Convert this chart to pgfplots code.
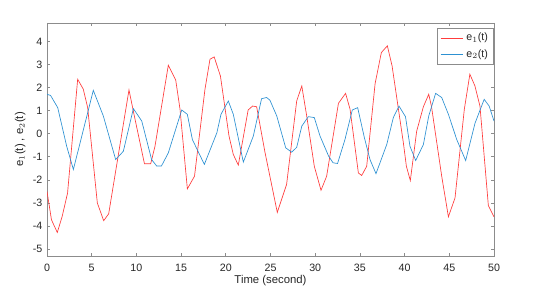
\documentclass[border=0pt]{standalone}
\usepackage{fontspec}
\setmainfont{Liberation Sans}
\usepackage{pgfplots}
\pgfplotsset{compat=1.18}
\definecolor{mred}{RGB}{255,60,60}
\definecolor{mblue}{RGB}{45,145,210}
\definecolor{axgray}{RGB}{140,140,140}
\definecolor{txt}{RGB}{38,38,38}
\begin{document}
\begin{tikzpicture}
\useasboundingbox (0pt,0pt) rectangle (400.5pt,219.75pt);
\begin{axis}[
  at={(35.25pt,27.75pt)}, anchor=south west,
  scale only axis, width=335.25pt, height=174.75pt,
  xmin=0, xmax=50, ymin=-5.3, ymax=4.8,
  xtick={0,5,...,50}, ytick={-5,-4,...,4},
  tick align=inside, major tick length=2.5pt,
  axis line style={axgray, line width=0.5pt},
  every tick/.style={axgray, line width=0.5pt},
  tick label style={font=\fontsize{8}{9.5}\selectfont, text=txt},
  xticklabel style={yshift=-2.5pt},
  /pgf/number format/assume math mode=true,
  xlabel={Time (second)},
  ylabel={e$_1$(t) , e$_2$(t)},
  label style={font=\fontsize{8.5}{10}\selectfont, text=txt},
  xlabel style={at={(axis description cs:0.5,-0.106)}, anchor=center},
  ylabel style={at={(axis description cs:-0.06,0.5)}, anchor=center},
  legend style={at={(0.999,0.98)}, anchor=north east, draw=axgray,
    font=\fontsize{8}{9.5}\selectfont, text=txt, inner sep=2pt, row sep=1pt},
  legend cell align=left,
]
\addplot[mred, line width=0.5pt] coordinates {
(0,-2.5) (0.5,-3.73) (1.15,-4.28) (1.7,-3.58) (2.3,-2.57) (3.43,2.36) (4.06,1.93) (4.55,1.13)
(5.63,-3.0) (6.34,-3.77) (6.9,-3.47) (9.17,1.9) (9.77,0.77) (10.9,-1.3) (11.6,-1.3) (12.08,-0.54)
(13.57,2.97) (14.4,2.32) (14.88,1.06) (15.7,-2.39) (16.5,-1.84) (17.67,1.93) (18.23,3.23) (18.7,3.33)
(19.4,2.5) (20.36,-0.1) (20.84,-0.9) (21.4,-1.36) (22.5,1.03) (23.0,1.2) (23.45,1.17) (24.38,-0.8)
(25.76,-3.41) (26.8,-2.2) (27.93,1.42) (28.5,2.07) (29.05,0.77) (29.9,-1.41) (30.65,-2.45) (31.28,-1.84)
(32.6,1.32) (33.4,1.75) (33.9,1.06) (34.83,-1.7) (35.2,-1.81) (35.76,-1.41) (36.7,2.17) (37.4,3.52)
(38.07,3.81) (38.6,2.94) (39.86,-0.39) (40.2,-1.41) (40.64,-2.03) (41.35,0.11) (42.1,1.17) (42.7,1.71)
(43.0,1.2) (44.15,-1.84) (44.9,-3.6) (45.64,-2.78) (46.68,1.06) (47.3,2.58) (47.87,2.07) (48.43,1.2)
(49.37,-3.12) (50.0,-3.6)
};
\addlegendentry{e$_1$(t)}
\addplot[mblue, line width=0.5pt] coordinates {
(0,1.71) (0.4,1.66) (1.2,1.13) (2.2,-0.54) (2.95,-1.55) (5.18,1.88) (6.3,0.77) (7.68,-1.12)
(8.54,-0.76) (9.66,1.09) (10.6,0.55) (11.7,-1.12) (12.27,-1.4) (12.8,-1.4) (13.57,-0.83) (15.07,1.03)
(15.7,0.84) (16.26,-0.25) (17.6,-1.33) (19.0,0.04) (19.46,0.84) (20.28,1.42) (20.84,0.84) (21.96,-1.23)
(23.08,-0.1) (24.0,1.52) (24.57,1.57) (24.94,1.45) (25.7,0.77) (26.7,-0.61) (27.37,-0.8) (27.93,-0.59)
(28.5,0.33) (29.23,0.74) (29.9,0.7) (30.54,-0.1) (31.5,-0.97) (32.0,-1.26) (32.5,-1.29) (33.33,-0.25)
(34.15,1.03) (34.75,1.13) (35.5,-0.17) (36.13,-1.12) (36.8,-1.73) (38.0,-0.47) (38.74,0.7) (39.37,1.2)
(40.1,0.74) (40.6,-0.54) (41.24,-1.16) (42.1,-0.47) (42.7,0.77) (43.47,1.75) (44.15,1.57) (44.9,0.84)
(45.83,-0.25) (46.83,-1.16) (47.87,0.45) (48.9,1.49) (49.46,1.2) (50.0,0.55)
};
\addlegendentry{e$_2$(t)}
\end{axis}
\end{tikzpicture}
\end{document}
